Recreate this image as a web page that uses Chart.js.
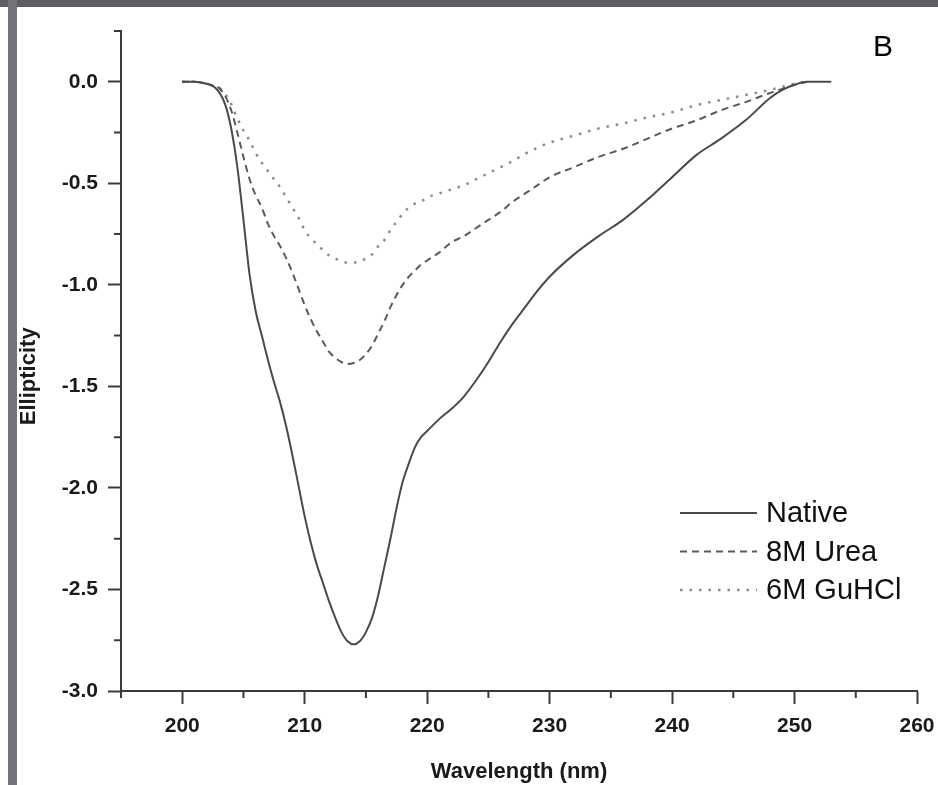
<!DOCTYPE html>
<html>
<head>
<meta charset="utf-8">
<script src="https://cdn.jsdelivr.net/npm/chart.js@4.4.1/dist/chart.umd.min.js"></script>
<style>
  html, body { margin: 0; padding: 0; background: #fff; }
  #wrap { position: relative; width: 938px; height: 785px; }
  #topBand { position: absolute; left: 0; top: 0; width: 938px; height: 7px; background: #5f5b62; }
  #leftBand { position: absolute; left: 8px; top: 0; width: 9px; height: 785px; background: #77737a; }
</style>
</head>
<body>
<div id="wrap">
  <canvas id="cdChart" width="938" height="785"></canvas>
  <div id="topBand"></div>
  <div id="leftBand"></div>
</div>
<script>
// wavelength (nm) and ellipticity
var wavelengths = [200, 201, 202, 202.5, 203, 203.5, 204, 204.5, 205, 205.5,
    206, 206.5, 207, 207.5, 208, 208.5, 209, 209.5, 210, 210.5,
    211, 211.5, 212, 212.5, 213, 213.5, 214, 214.5, 215, 215.5,
    216, 216.5, 217, 217.5, 218, 218.5, 219, 219.5, 220, 221,
    222, 223, 224, 225, 226, 227, 228, 229, 230, 232,
    234, 236, 238, 240, 242, 244, 246, 248, 249, 250,
    251, 252, 253];

var nativeValues = [0, 0, -0.01, -0.02, -0.05, -0.11, -0.23, -0.42, -0.68, -0.95,
    -1.13, -1.25, -1.37, -1.48, -1.58, -1.70, -1.84, -1.99, -2.14, -2.27,
    -2.38, -2.47, -2.56, -2.64, -2.71, -2.755, -2.77, -2.755, -2.71, -2.64,
    -2.53, -2.39, -2.25, -2.10, -1.97, -1.88, -1.80, -1.75, -1.72, -1.66,
    -1.61, -1.55, -1.47, -1.38, -1.28, -1.19, -1.11, -1.03, -0.96, -0.85,
    -0.76, -0.68, -0.58, -0.47, -0.36, -0.28, -0.19, -0.08, -0.04, -0.015,
    0, 0, 0];

var ureaValues = [0, 0, -0.01, -0.02, -0.03, -0.07, -0.14, -0.25, -0.37, -0.48,
    -0.56, -0.62, -0.70, -0.76, -0.81, -0.87, -0.94, -1.02, -1.10, -1.17,
    -1.23, -1.28, -1.33, -1.36, -1.38, -1.39, -1.385, -1.37, -1.34, -1.30,
    -1.24, -1.18, -1.11, -1.05, -1.00, -0.96, -0.93, -0.90, -0.88, -0.84,
    -0.79, -0.76, -0.72, -0.68, -0.64, -0.59, -0.55, -0.51, -0.47, -0.42,
    -0.37, -0.33, -0.28, -0.23, -0.19, -0.14, -0.10, -0.055, -0.035, -0.015,
    0, null, null];

var guhclValues = [0, 0, -0.01, -0.02, -0.03, -0.06, -0.11, -0.18, -0.24, -0.29,
    -0.35, -0.40, -0.44, -0.48, -0.52, -0.57, -0.62, -0.67, -0.73, -0.77,
    -0.80, -0.83, -0.855, -0.87, -0.885, -0.89, -0.89, -0.885, -0.87, -0.85,
    -0.81, -0.78, -0.73, -0.69, -0.65, -0.62, -0.60, -0.59, -0.57, -0.55,
    -0.53, -0.51, -0.48, -0.45, -0.42, -0.39, -0.355, -0.325, -0.30, -0.265,
    -0.23, -0.205, -0.175, -0.15, -0.115, -0.09, -0.065, -0.04, -0.025, -0.01,
    0, null, null];

var seriesLabels = ['Native', '8M Urea', '6M GuHCl'];
var xMinorTicks = [195, 205, 215, 225, 235, 245, 255];
var yMinorTicks = [0.25, -0.25, -0.75, -1.25, -1.75, -2.25, -2.75];

function toPoints(values) {
    return wavelengths.map(function(w, i) { return { x: w, y: values[i] }; });
}

var axisColor = '#3a3a3a';

// minor ticks, legend box and panel letter
var extras = {
    id: 'extras',
    afterDraw: function(chart) {
        var ctx = chart.ctx;
        var xs = chart.scales.x, ys = chart.scales.y;
        ctx.save();
        ctx.strokeStyle = axisColor;
        ctx.lineWidth = 2;
        ctx.beginPath();
        xMinorTicks.forEach(function(v) {
            var px = xs.getPixelForValue(v);
            ctx.moveTo(px, ys.bottom);
            ctx.lineTo(px, ys.bottom + 7);
        });
        yMinorTicks.forEach(function(v) {
            var py = ys.getPixelForValue(v);
            ctx.moveTo(xs.left - 7, py);
            ctx.lineTo(xs.left, py);
        });
        ctx.stroke();

        // legend
        var lx = 680, ly = 513, gap = 38.5;
        ctx.font = '29px "Liberation Sans", Arial, sans-serif';
        ctx.textBaseline = 'middle';
        ctx.textAlign = 'left';
        chart.data.datasets.forEach(function(ds, i) {
            var y = ly + i * gap;
            ctx.strokeStyle = ds.borderColor;
            ctx.lineWidth = ds.borderWidth;
            ctx.setLineDash(ds.borderDash || []);
            ctx.beginPath();
            ctx.moveTo(lx, y);
            ctx.lineTo(lx + 77, y);
            ctx.stroke();
            ctx.setLineDash([]);
            ctx.fillStyle = '#111';
            ctx.fillText(ds.label, lx + 86, y + 1);
        });

        ctx.font = '30px "Liberation Sans", Arial, sans-serif';
        ctx.fillStyle = '#000';
        ctx.fillText('B', 873, 48);
        ctx.restore();
    }
};

var ctx = document.getElementById('cdChart').getContext('2d');
var chart = new Chart(ctx, {
    type: 'line',
    data: {
        datasets: [{
            label: seriesLabels[0],
            data: toPoints(nativeValues),
            borderColor: '#4a4a4a',
            borderWidth: 2,
            borderDash: []
        }, {
            label: seriesLabels[1],
            data: toPoints(ureaValues),
            borderColor: '#5a5a5a',
            borderWidth: 2,
            borderDash: [7, 5]
        }, {
            label: seriesLabels[2],
            data: toPoints(guhclValues),
            borderColor: '#8a8a8a',
            borderWidth: 2.5,
            borderDash: [2.5, 7]
        }]
    },
    options: {
        responsive: false,
        animation: false,
        spanGaps: false,
        layout: {
            padding: { left: 0, top: 31, right: 21, bottom: 0 }
        },
        elements: {
            point: { radius: 0 },
            line: { cubicInterpolationMode: 'monotone', fill: false }
        },
        scales: {
            x: {
                type: 'linear',
                min: 195,
                max: 260,
                afterFit: function(scale) {
                    scale.height = 94;
                    scale.paddingRight = 0;
                    scale.paddingLeft = 0;
                },
                border: { display: true, color: axisColor, width: 2 },
                grid: { drawOnChartArea: false, drawTicks: true, tickLength: 13, tickWidth: 2, tickColor: axisColor },
                ticks: {
                    stepSize: 10,
                    includeBounds: false,
                    padding: 10,
                    color: '#1a1a1a',
                    font: { family: '"Liberation Sans", Arial, sans-serif', size: 21, weight: 'bold' }
                },
                title: {
                    display: true,
                    text: 'Wavelength (nm)',
                    color: '#1a1a1a',
                    padding: { top: 0, bottom: 0 },
                    font: { family: '"Liberation Sans", Arial, sans-serif', size: 22, weight: 'bold' }
                }
            },
            y: {
                min: -3,
                max: 0.25,
                afterFit: function(scale) { scale.width = 121; },
                border: { display: true, color: axisColor, width: 2 },
                grid: { drawOnChartArea: false, drawTicks: true, tickLength: 13, tickWidth: 2, tickColor: axisColor },
                ticks: {
                    stepSize: 0.5,
                    includeBounds: false,
                    padding: 10,
                    color: '#1a1a1a',
                    font: { family: '"Liberation Sans", Arial, sans-serif', size: 21, weight: 'bold' },
                    callback: function(v) { return v.toFixed(1); }
                },
                title: {
                    display: true,
                    text: 'Ellipticity     ',
                    color: '#1a1a1a',
                    padding: { top: 16, bottom: 0 },
                    font: { family: '"Liberation Sans", Arial, sans-serif', size: 22, weight: 'bold' }
                }
            }
        },
        plugins: {
            legend: { display: false },
            tooltip: { enabled: false },
            title: { display: false }
        }
    },
    plugins: [extras]
});
</script>
</body>
</html>
